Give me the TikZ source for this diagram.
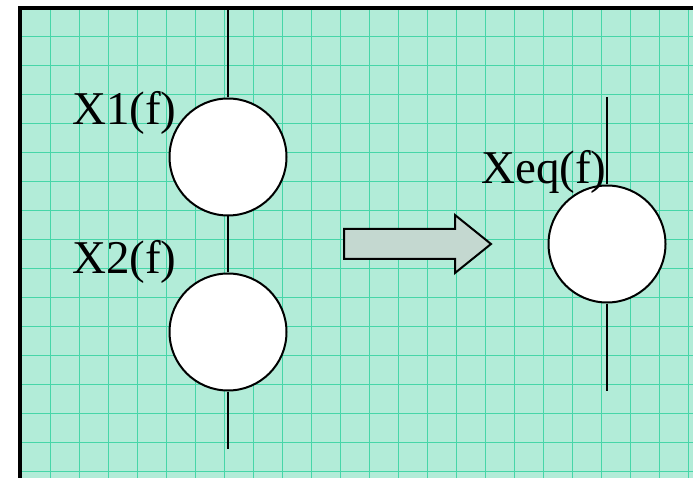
\documentclass[tikz,border=0pt]{standalone}
\usepackage{fontspec}
\setmainfont{Liberation Serif}
\definecolor{sheet}{RGB}{178,236,216}
\definecolor{gridline}{RGB}{70,214,168}
\definecolor{arrowfill}{RGB}{196,216,208}
\tikzset{
  imp/.style={circle, draw=black, line width=2pt, fill=white, minimum size=117pt, inner sep=0pt},
  lbl/.style={anchor=base west, inner sep=0pt, font=\fontsize{47}{50}\selectfont},
  wire/.style={line width=1.8pt}
}
\begin{document}
\begin{tikzpicture}[x=1pt, y=-1pt]
  \useasboundingbox (0,0) rectangle (693,478);

  % Sheet and grid
  \fill[sheet] (20,8) rectangle (693,478);
  \begin{scope}
    \clip (20,8) rectangle (693,478);
    \foreach \gx in {0,...,23} \draw[gridline, line width=0.7pt] (21+29*\gx,8) -- (21+29*\gx,478);
    \foreach \gy in {0,...,16} \draw[gridline, line width=0.7pt] (20,7+29*\gy) -- (693,7+29*\gy);
  \end{scope}
  \draw[line width=3.5pt] (20,478) -- (20,8) -- (693,8);

  % Series impedances
  \coordinate (top1) at (228,10);
  \coordinate (bot1) at (228,449);
  \node[imp] (c1) at (228,157) {};
  \node[imp] (c2) at (228,332) {};
  \draw[wire] (top1) -- (c1);
  \draw[wire] (c1) -- (c2);
  \draw[wire] (c2) -- (bot1);

  % Equivalent impedance
  \coordinate (top2) at (607,97);
  \coordinate (bot2) at (607,391);
  \node[imp] (ceq) at (607,244) {};
  \draw[wire] (top2) -- (ceq);
  \draw[wire] (ceq) -- (bot2);

  % Block arrow
  \draw[line width=2pt, fill=arrowfill, line join=miter]
    (344,229) -- (455,229) -- (455,215) -- (491,244) -- (455,273) -- (455,259) -- (344,259) -- cycle;

  % Labels
  \node[lbl] (l1) at (72,125) {X1(f)};
  \node[lbl] (l2) at (72,273) {X2(f)};
  \node[lbl] (leq) at (481,184) {Xeq(f)};
\end{tikzpicture}
\end{document}
